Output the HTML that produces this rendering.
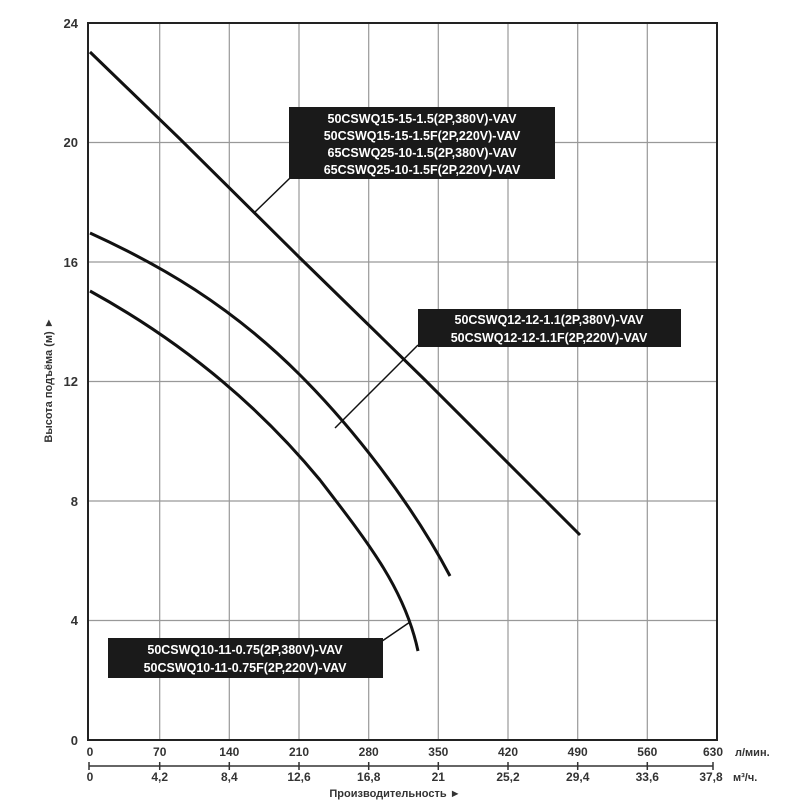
<!DOCTYPE html>
<html><head><meta charset="utf-8"><style>
body{margin:0;background:#fff;}
svg text{font-family:"Liberation Sans",sans-serif;font-weight:bold;fill:#333;}
</style></head><body>
<svg width="800" height="800" viewBox="0 0 800 800" xmlns="http://www.w3.org/2000/svg">
<g stroke="#999" stroke-width="1.2">
<line x1="159.7" y1="23" x2="159.7" y2="740"/><line x1="229.3" y1="23" x2="229.3" y2="740"/>
<line x1="299" y1="23" x2="299" y2="740"/><line x1="368.7" y1="23" x2="368.7" y2="740"/>
<line x1="438.3" y1="23" x2="438.3" y2="740"/><line x1="508" y1="23" x2="508" y2="740"/>
<line x1="577.7" y1="23" x2="577.7" y2="740"/><line x1="647.3" y1="23" x2="647.3" y2="740"/>
<line x1="88" y1="142.5" x2="717" y2="142.5"/><line x1="88" y1="262" x2="717" y2="262"/>
<line x1="88" y1="381.5" x2="717" y2="381.5"/><line x1="88" y1="501" x2="717" y2="501"/>
<line x1="88" y1="620.5" x2="717" y2="620.5"/>
</g>
<rect x="88" y="23" width="629" height="717" fill="none" stroke="#222" stroke-width="2"/>
<g font-size="13" text-anchor="end">
<text x="78" y="28">24</text><text x="78" y="147">20</text><text x="78" y="267">16</text>
<text x="78" y="386">12</text><text x="78" y="506">8</text><text x="78" y="625">4</text><text x="78" y="745">0</text>
</g>
<g font-size="12" text-anchor="middle">
<text x="90" y="756">0</text><text x="159.7" y="756">70</text><text x="229.3" y="756">140</text><text x="299" y="756">210</text><text x="368.7" y="756">280</text><text x="438.3" y="756">350</text><text x="508" y="756">420</text><text x="577.7" y="756">490</text><text x="647.3" y="756">560</text><text x="713" y="756">630</text>
<text x="90" y="781">0</text><text x="159.7" y="781">4,2</text><text x="229.3" y="781">8,4</text><text x="299" y="781">12,6</text><text x="368.7" y="781">16,8</text><text x="438.3" y="781">21</text><text x="508" y="781">25,2</text><text x="577.7" y="781">29,4</text><text x="647.3" y="781">33,6</text><text x="711" y="781">37,8</text>
</g>
<text x="735" y="756" font-size="11">л/мин.</text>
<text x="733" y="781" font-size="11">м³/ч.</text>
<g stroke="#333" stroke-width="1.5">
<line x1="89" y1="766" x2="713" y2="766"/>
<line x1="89" y1="762" x2="89" y2="770"/><line x1="159.7" y1="762" x2="159.7" y2="770"/><line x1="229.3" y1="762" x2="229.3" y2="770"/><line x1="299" y1="762" x2="299" y2="770"/><line x1="368.7" y1="762" x2="368.7" y2="770"/><line x1="438.3" y1="762" x2="438.3" y2="770"/><line x1="508" y1="762" x2="508" y2="770"/><line x1="577.7" y1="762" x2="577.7" y2="770"/><line x1="647.3" y1="762" x2="647.3" y2="770"/><line x1="713" y1="762" x2="713" y2="770"/>
</g>
<text x="395" y="797" font-size="11" text-anchor="middle">Производительность ►</text>
<text transform="translate(52,380) rotate(-90)" font-size="11" text-anchor="middle">Высота подъёма (м) ►</text>
<g fill="none" stroke="#111" stroke-width="3" stroke-linejoin="round">
<polyline points="90,52 180,139 300,258 425,380 545,500 580,535"/>
<path d="M90,233 C160,265 230,305 300,375 C350,425 410,500 450,576"/>
<path d="M90,291 C170,335 250,395 320,480 C370,545 405,590 418,651"/>
</g>
<g stroke="#111" stroke-width="1.5">
<line x1="290" y1="178" x2="255" y2="212"/>
<line x1="418" y1="345" x2="335" y2="428"/>
<line x1="372" y1="648" x2="410" y2="622"/>
</g>
<rect x="289" y="107" width="266" height="72" fill="#1a1a1a"/>
<g font-size="12.5" fill="#fff" style="fill:#fff" text-anchor="middle">
<text x="422" y="123" style="fill:#fff">50CSWQ15-15-1.5(2P,380V)-VAV</text>
<text x="422" y="140" style="fill:#fff">50CSWQ15-15-1.5F(2P,220V)-VAV</text>
<text x="422" y="157" style="fill:#fff">65CSWQ25-10-1.5(2P,380V)-VAV</text>
<text x="422" y="174" style="fill:#fff">65CSWQ25-10-1.5F(2P,220V)-VAV</text>
</g>
<rect x="418" y="309" width="263" height="38" fill="#1a1a1a"/>
<text x="549" y="324" font-size="12.5" text-anchor="middle" style="fill:#fff">50CSWQ12-12-1.1(2P,380V)-VAV</text>
<text x="549" y="342" font-size="12.5" text-anchor="middle" style="fill:#fff">50CSWQ12-12-1.1F(2P,220V)-VAV</text>
<rect x="108" y="638" width="275" height="40" fill="#1a1a1a"/>
<text x="245" y="654" font-size="12.5" text-anchor="middle" style="fill:#fff">50CSWQ10-11-0.75(2P,380V)-VAV</text>
<text x="245" y="672" font-size="12.5" text-anchor="middle" style="fill:#fff">50CSWQ10-11-0.75F(2P,220V)-VAV</text>
</svg>
</body></html>
